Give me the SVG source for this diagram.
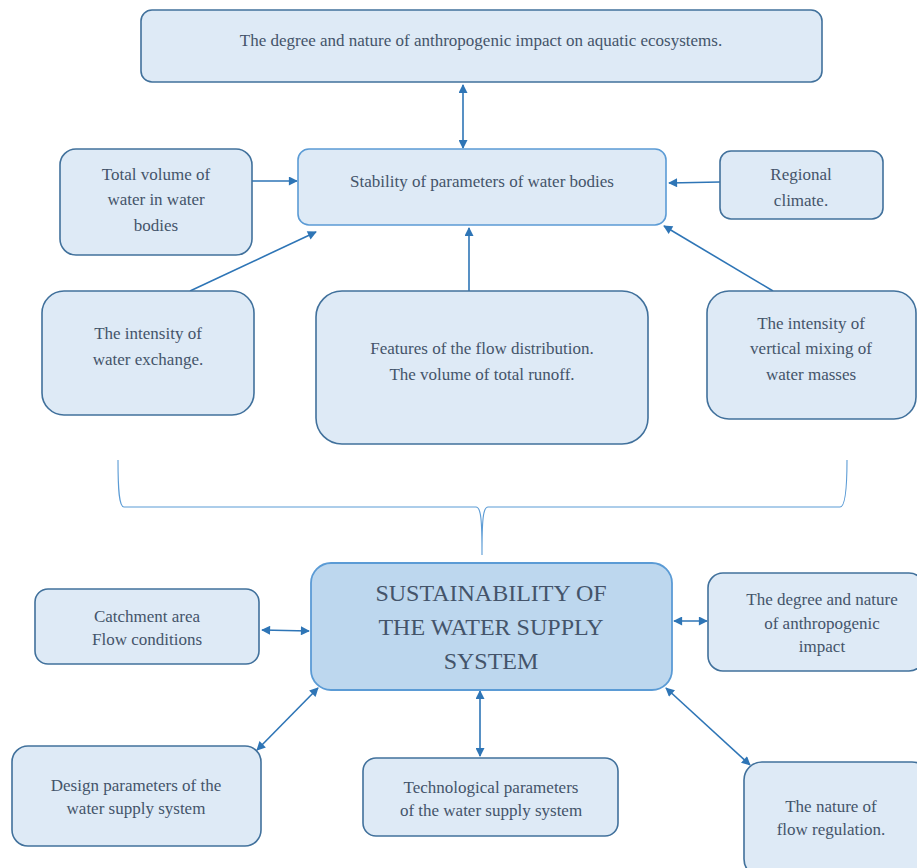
<svg xmlns="http://www.w3.org/2000/svg" width="917" height="868" viewBox="0 0 917 868">
<style>
.box{fill:#deeaf6;stroke:#41719c;stroke-width:1.6}
.box2{fill:#deeaf6;stroke:#5b9bd5;stroke-width:1.6}
.main{fill:#bdd7ee;stroke:#5b9bd5;stroke-width:1.8}
.t{font-family:'Liberation Serif','Times New Roman',serif;font-size:17px;fill:#44546a;text-anchor:middle}
.big{font-size:24px}
.con{stroke:#2e75b6;stroke-width:1.6;fill:none}
.brace{stroke:#5b9bd5;stroke-width:1.1;fill:none}
</style>
<defs>
<marker id="ah" viewBox="0 0 10 10" refX="9" refY="5" markerWidth="10" markerHeight="9" markerUnits="userSpaceOnUse" orient="auto-start-reverse">
<path d="M0,0 L10,5 L0,10 z" fill="#2e75b6"/>
</marker>
</defs>
<rect width="917" height="868" fill="#ffffff"/>

<g id="connectors">
<line class="con" x1="463" y1="85" x2="463" y2="148" marker-start="url(#ah)" marker-end="url(#ah)"/>
<line class="con" x1="252" y1="181" x2="297" y2="181" marker-end="url(#ah)"/>
<line class="con" x1="720" y1="182" x2="669" y2="183" marker-end="url(#ah)"/>
<line class="con" x1="190" y1="291" x2="316" y2="232" marker-end="url(#ah)"/>
<line class="con" x1="469" y1="291" x2="469" y2="228" marker-end="url(#ah)"/>
<line class="con" x1="773" y1="291" x2="664" y2="226" marker-end="url(#ah)"/>
<path class="brace" d="M118,460 C118,490 119,507 124,507 L476,507 C481,507 482,520 482,555 C482,520 483,507 488,507 L840,507 C845,507 847,490 847,460"/>
<line class="con" x1="262" y1="630" x2="309" y2="631" marker-start="url(#ah)" marker-end="url(#ah)"/>
<line class="con" x1="674" y1="621" x2="707" y2="621" marker-start="url(#ah)" marker-end="url(#ah)"/>
<line class="con" x1="257" y1="750" x2="318" y2="688" marker-start="url(#ah)" marker-end="url(#ah)"/>
<line class="con" x1="480" y1="691" x2="480" y2="756" marker-start="url(#ah)" marker-end="url(#ah)"/>
<line class="con" x1="666" y1="688" x2="750" y2="765" marker-start="url(#ah)" marker-end="url(#ah)"/>
</g>

<g id="n-top">
<rect class="box" x="141" y="10" width="681" height="72" rx="11"/>
<text class="t" font-family="Liberation Serif" x="481" y="46">The degree and nature of anthropogenic impact on aquatic ecosystems.</text>
</g>
<g id="n-stability">
<rect class="box2" x="298" y="149" width="368" height="76" rx="11"/>
<text class="t" font-family="Liberation Serif" x="482" y="187">Stability of parameters of water bodies</text>
</g>
<g id="n-volume">
<rect class="box" x="60" y="149" width="192" height="106" rx="16"/>
<text class="t" font-family="Liberation Serif" x="156" y="180">Total volume of</text>
<text class="t" font-family="Liberation Serif" x="156" y="205">water in water</text>
<text class="t" font-family="Liberation Serif" x="156" y="231">bodies</text>
</g>
<g id="n-climate">
<rect class="box" x="720" y="151" width="163" height="68" rx="11"/>
<text class="t" font-family="Liberation Serif" x="801" y="180">Regional</text>
<text class="t" font-family="Liberation Serif" x="801" y="206">climate.</text>
</g>
<g id="n-exchange">
<rect class="box" x="42" y="291" width="212" height="124" rx="22"/>
<text class="t" font-family="Liberation Serif" x="148" y="339">The intensity of</text>
<text class="t" font-family="Liberation Serif" x="148" y="365">water exchange.</text>
</g>
<g id="n-flow">
<rect class="box" x="316" y="291" width="332" height="153" rx="26"/>
<text class="t" font-family="Liberation Serif" x="482" y="354">Features of the flow distribution.</text>
<text class="t" font-family="Liberation Serif" x="482" y="380">The volume of total runoff.</text>
</g>
<g id="n-mixing">
<rect class="box" x="707" y="291" width="209" height="128" rx="22"/>
<text class="t" font-family="Liberation Serif" x="811" y="329">The intensity of</text>
<text class="t" font-family="Liberation Serif" x="811" y="354">vertical mixing of</text>
<text class="t" font-family="Liberation Serif" x="811" y="380">water masses</text>
</g>
<g id="n-main">
<rect class="main" x="311" y="563" width="361" height="127" rx="20"/>
<text class="t big" font-family="Liberation Serif" x="491" y="601">SUSTAINABILITY OF</text>
<text class="t big" font-family="Liberation Serif" x="491" y="635">THE WATER SUPPLY</text>
<text class="t big" font-family="Liberation Serif" x="491" y="669">SYSTEM</text>
</g>
<g id="n-catchment">
<rect class="box" x="35" y="589" width="224" height="75" rx="13"/>
<text class="t" font-family="Liberation Serif" x="147" y="622">Catchment area</text>
<text class="t" font-family="Liberation Serif" x="147" y="645">Flow conditions</text>
</g>
<g id="n-anthro">
<rect class="box" x="708" y="573" width="216" height="98" rx="15"/>
<text class="t" font-family="Liberation Serif" x="822" y="605">The degree and nature</text>
<text class="t" font-family="Liberation Serif" x="822" y="629">of anthropogenic</text>
<text class="t" font-family="Liberation Serif" x="822" y="652">impact</text>
</g>
<g id="n-design">
<rect class="box" x="12" y="746" width="249" height="100" rx="16"/>
<text class="t" font-family="Liberation Serif" x="136" y="791">Design parameters of the</text>
<text class="t" font-family="Liberation Serif" x="136" y="814">water supply system</text>
</g>
<g id="n-tech">
<rect class="box" x="363" y="758" width="255" height="78" rx="13"/>
<text class="t" font-family="Liberation Serif" x="491" y="793">Technological parameters</text>
<text class="t" font-family="Liberation Serif" x="491" y="816">of the water supply system</text>
</g>
<g id="n-regulation">
<rect class="box" x="744" y="762" width="186" height="115" rx="18"/>
<text class="t" font-family="Liberation Serif" x="831" y="812">The nature of</text>
<text class="t" font-family="Liberation Serif" x="831" y="835">flow regulation.</text>
</g>
</svg>
